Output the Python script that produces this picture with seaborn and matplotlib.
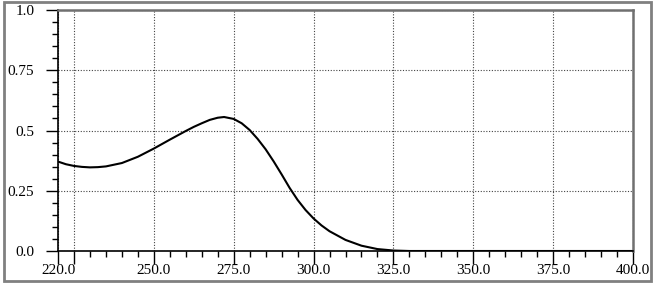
import matplotlib
matplotlib.use("Agg")
import matplotlib.pyplot as plt
from matplotlib.patches import Rectangle
from matplotlib.ticker import FixedLocator, MultipleLocator
import seaborn as sns
import pandas as pd

wavelength = [220, 222.5, 225, 227.5, 230, 232.5, 235, 240, 245, 250, 255, 260,
              262.5, 265, 267.5, 270, 272, 275, 277.5, 280, 282.5, 285, 287.5,
              290, 292.5, 295, 297.5, 300, 302.5, 305, 310, 315, 320, 325, 330,
              340, 350, 360, 370, 380, 390, 400]
absorbance = [0.371, 0.360, 0.353, 0.349, 0.347, 0.348, 0.351, 0.365, 0.391,
              0.425, 0.462, 0.498, 0.515, 0.530, 0.544, 0.553, 0.556, 0.548,
              0.530, 0.502, 0.465, 0.422, 0.372, 0.318, 0.262, 0.212, 0.170,
              0.135, 0.106, 0.082, 0.046, 0.022, 0.008, 0.002, 0.0, 0.0, 0.0,
              0.0, 0.0, 0.0, 0.0, 0.0]
x_labels = ["220.0", "", "250.0", "275.0", "300.0", "325.0", "350.0", "375.0", "400.0"]
x_major = [220, 225, 250, 275, 300, 325, 350, 375, 400]
y_major = [0.0, 0.25, 0.5, 0.75, 1.0]
y_labels = ["0.0", "0.25", "0.5", "0.75", "1.0"]

sns.set_style("white")
plt.rcParams['font.family'] = ['Liberation Serif', 'DejaVu Serif']

df = pd.DataFrame({"wl": wavelength, "abs": absorbance})

fig = plt.figure(figsize=(6.57, 2.83), dpi=100)
ax = fig.add_axes([58/657, 1-251/283, (633-58)/657, (251-10)/283])

sns.lineplot(data=df, x="wl", y="abs", ax=ax, color="black", linewidth=1.5)

ax.set_xlim(220, 400)
ax.set_ylim(0, 1.0)
ax.set_xlabel("")
ax.set_ylabel("")

ax.xaxis.set_major_locator(FixedLocator(x_major))
ax.set_xticklabels(x_labels)
ax.xaxis.set_minor_locator(MultipleLocator(5))
ax.yaxis.set_major_locator(FixedLocator(y_major))
ax.set_yticklabels(y_labels)
ax.yaxis.set_minor_locator(MultipleLocator(0.05))

ax.tick_params(axis="both", which="major", direction="out", length=9, width=1,
               color="black", labelsize=11, labelcolor="black",
               bottom=True, left=True)
ax.tick_params(axis="y", which="major", pad=8)
ax.tick_params(axis="x", which="major", pad=0.5)
ax.tick_params(axis="both", which="minor", direction="out", length=4, width=1,
               color="black", bottom=True, left=True)

ax.grid(True, which="major", color="#444444", linestyle=(0, (1, 1.5)), linewidth=0.8)
ax.set_axisbelow(True)

for side in ["left", "bottom"]:
    ax.spines[side].set_color("black")
    ax.spines[side].set_linewidth(1.2)
for side in ["top", "right"]:
    ax.spines[side].set_color("#707070")
    ax.spines[side].set_linewidth(1.8)

fig.patches.append(Rectangle((4/657, 2/283), 647/657, 279/283,
                             transform=fig.transFigure, fill=False,
                             edgecolor="#808080", linewidth=2.0))

fig.savefig("out.png", dpi=100)
